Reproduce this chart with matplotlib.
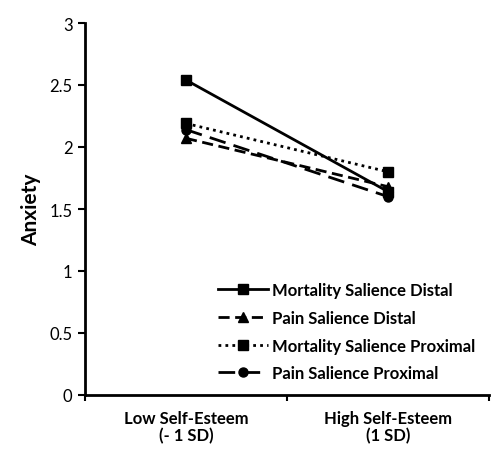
import matplotlib
matplotlib.use("Agg")
import matplotlib.pyplot as plt

plt.rcParams['font.family'] = ['Lato', 'DejaVu Sans']

categories = ["Low Self-Esteem\n(- 1 SD)", "High Self-Esteem\n(1 SD)"]
series_names = ["Mortality Salience Distal", "Pain Salience Distal",
                "Mortality Salience Proximal", "Pain Salience Proximal"]
ms_distal = [2.54, 1.64]
ps_distal = [2.07, 1.68]
ms_proximal = [2.19, 1.80]
ps_proximal = [2.14, 1.60]
y_ticks = [0, 0.5, 1, 1.5, 2, 2.5, 3]

fig = plt.figure(figsize=(4.93, 4.60), dpi=100)
ax = fig.add_axes([85 / 493, 1 - 396 / 460, (489 - 85) / 493, (396 - 24) / 460])

x = [0, 1]
ax.plot(x, ms_distal, color='black', linestyle='-', linewidth=2, marker='s', markersize=6.5,
        label=series_names[0])
ax.plot(x, ps_distal, color='black', linestyle=(0, (4, 2)), linewidth=2, marker='^', markersize=7,
        label=series_names[1])
ax.plot(x, ms_proximal, color='black', linestyle=(0, (1, 1.5)), linewidth=2, marker='s', markersize=6.5,
        label=series_names[2])
ax.plot(x, ps_proximal, color='black', linestyle=(0, (6, 3)), linewidth=2, marker='o', markersize=6.5,
        label=series_names[3])

ax.set_xlim(-0.5, 1.5)
ax.set_ylim(0, 3)
ax.set_yticks(y_ticks)
ax.set_yticklabels([f"{v:g}" for v in y_ticks], fontsize=12)

ax.set_xticks([-0.5, 0.5, 1.5])
ax.set_xticklabels([])
ax.set_xticks(x, minor=True)
ax.set_xticklabels(categories, minor=True, fontsize=12, fontweight='bold', linespacing=1.05)
ax.tick_params(axis='x', which='minor', length=0, pad=11)
ax.tick_params(axis='x', which='major', length=4, width=1.5, direction='out')
ax.tick_params(axis='y', length=5, width=1.5, direction='out', pad=4)

for s in ['top', 'right']:
    ax.spines[s].set_visible(False)
for s in ['left', 'bottom']:
    ax.spines[s].set_linewidth(2)

ax.set_ylabel("Anxiety", fontsize=15, fontweight='bold', labelpad=6)

leg = ax.legend(loc='upper left', bbox_to_anchor=(0.329, 0.303), frameon=False,
                prop={'weight': 'bold', 'size': 12}, handlelength=3.0,
                labelspacing=0.7, handletextpad=0.25, borderpad=0, borderaxespad=0)

plt.savefig("out.png", dpi=100)
